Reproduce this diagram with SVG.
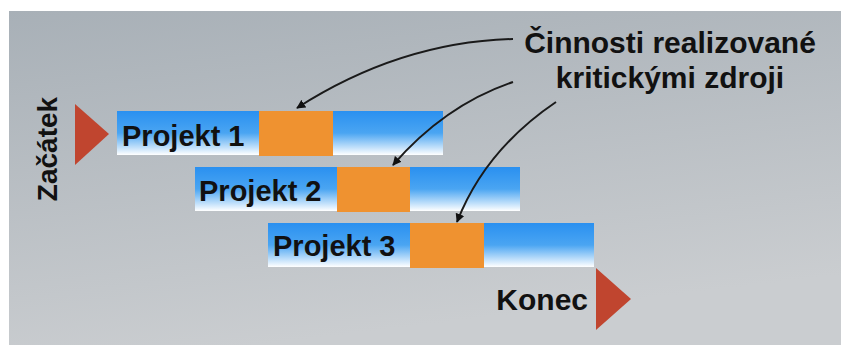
<svg xmlns="http://www.w3.org/2000/svg" width="841" height="345" viewBox="0 0 841 345">
<defs>
<linearGradient id="bg" x1="0" y1="0" x2="0.3" y2="1">
<stop offset="0" stop-color="#a8b0b7"/>
<stop offset="1" stop-color="#cacdd0"/>
</linearGradient>
<linearGradient id="bar" x1="0" y1="0" x2="0" y2="1">
<stop offset="0" stop-color="#2a90f0"/>
<stop offset="0.5" stop-color="#4aa5f2"/>
<stop offset="1" stop-color="#ffffff"/>
</linearGradient>
<marker id="ah" viewBox="0 0 10 10" refX="9" refY="5" markerWidth="9" markerHeight="9" markerUnits="userSpaceOnUse" orient="auto">
<path d="M0,0 L10,5 L0,10 Z" fill="#111"/>
</marker>
</defs>
<style>
.t{font-family:"Liberation Sans",Arial,sans-serif;font-weight:bold;fill:#111;}
.bar{fill:url(#bar);}
.crit{fill:#ef9230;}
.tri{fill:#c0452f;}
.conn{fill:none;stroke:#1a1a1a;stroke-width:2;marker-end:url(#ah);}
</style>
<rect x="0" y="0" width="841" height="345" fill="#ffffff"/>
<rect x="9" y="11" width="832" height="334" fill="url(#bg)"/>
<g id="start">
<polygon class="tri" points="75,104 109,134 75,165"/>
<text class="t" font-size="28" transform="translate(57,149) rotate(-90)" text-anchor="middle">Začátek</text>
</g>
<g id="end">
<polygon class="tri" points="596,268 631,299 596,330"/>
<text class="t" font-size="30" x="588" y="310" text-anchor="end">Konec</text>
</g>
<g id="projekt1">
<rect class="bar" x="117" y="111" width="326" height="44"/>
<rect class="crit" x="259" y="111" width="74" height="45"/>
<text class="t" font-size="29" x="122" y="146">Projekt 1</text>
</g>
<g id="projekt2">
<rect class="bar" x="195" y="167" width="325" height="44"/>
<rect class="crit" x="337" y="167" width="73" height="45"/>
<text class="t" font-size="29" x="199" y="201">Projekt 2</text>
</g>
<g id="projekt3">
<rect class="bar" x="268" y="223" width="326" height="44"/>
<rect class="crit" x="410" y="223" width="74" height="45"/>
<text class="t" font-size="29" x="273" y="256">Projekt 3</text>
</g>
<g id="label">
<text class="t" font-size="30" x="670" y="53" text-anchor="middle">Činnosti realizované</text>
<text class="t" font-size="30" x="670" y="88" text-anchor="middle">kritickými zdroji</text>
</g>
<g id="connectors">
<path class="conn" d="M513,39 Q400,42 297,108"/>
<path class="conn" d="M513,82 Q445,105 393,165"/>
<path class="conn" d="M556,102 Q485,150 457,222"/>
</g>
</svg>
